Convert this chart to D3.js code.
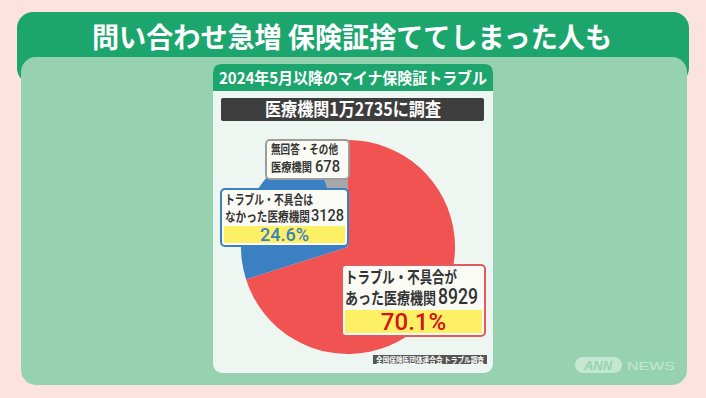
<!DOCTYPE html>
<html>
<head>
<meta charset="utf-8">
<script src="https://cdn.jsdelivr.net/npm/d3@7"></script>
<style>
  html, body { margin: 0; padding: 0; background: #fde2e2; }
  svg { display: block; font-family: "Noto Sans CJK JP", "Noto Sans", sans-serif; }
</style>
</head>
<body>
<svg id="chart" width="706" height="398"></svg>
<script>
// data
const headline = "問い合わせ急増 保険証捨ててしまった人も"
const chartTitle = "2024年5月以降のマイナ保険証トラブル"
const subTitle = "医療機関1万2735に調査"
const sourceNote = "全国保険医団体連合会 トラブル調査"

const categories = ["トラブル・不具合があった", "トラブル・不具合はなかった", "無回答・その他"]
const counts = [8929, 3128, 678]
const percents = ["70.1%", "24.6%", null]
const sliceColors = ["#f05352", "#3a80c2", "#a7a7a7"]

const svg = d3.select("#chart")
const numFont = "Roboto, 'Noto Sans', sans-serif"

// outer frame
svg.append("rect").attr("x", 17).attr("y", 12).attr("width", 672).attr("height", 72)
    .attr("rx", 16).attr("fill", "#1da56e")
svg.append("rect").attr("x", 21).attr("y", 57).attr("width", 666).attr("height", 328)
    .attr("rx", 15).attr("fill", "#97d2b0")

svg.append("text")
    .attr("x", 352).attr("y", 48)
    .attr("text-anchor", "middle")
    .attr("fill", "white")
    .attr("font-size", 28).attr("font-weight", 700)
    .attr("textLength", 520).attr("lengthAdjust", "spacingAndGlyphs")
    .text(headline)

// chart panel
const panel = { x: 213, y: 64, w: 280, h: 309 }
svg.append("rect").attr("x", panel.x).attr("y", panel.y).attr("width", panel.w).attr("height", panel.h)
    .attr("rx", 9).attr("fill", "#eef6f1")
svg.append("path")
    .attr("d", `M${panel.x},${panel.y + 27} V${panel.y + 9} Q${panel.x},${panel.y} ${panel.x + 9},${panel.y} H${panel.x + panel.w - 9} Q${panel.x + panel.w},${panel.y} ${panel.x + panel.w},${panel.y + 9} V${panel.y + 27} Z`)
    .attr("fill", "#1da56e")
svg.append("text")
    .attr("x", 353).attr("y", 84)
    .attr("text-anchor", "middle").attr("fill", "white")
    .attr("font-size", 16).attr("font-weight", 700)
    .attr("textLength", 268).attr("lengthAdjust", "spacingAndGlyphs")
    .text(chartTitle)

svg.append("rect").attr("x", 221).attr("y", 98).attr("width", 263).attr("height", 23)
    .attr("rx", 2).attr("fill", "#3d3d3d")
svg.append("text")
    .attr("x", 353).attr("y", 116)
    .attr("text-anchor", "middle").attr("fill", "white")
    .attr("font-size", 18).attr("font-weight", 700)
    .attr("textLength", 176).attr("lengthAdjust", "spacingAndGlyphs")
    .text(subTitle)

// pie
const cx = 348, cy = 247, r = 107
const pie = d3.pie().sort(null).value(d => d)
const arc = d3.arc().innerRadius(0).outerRadius(r)
const slices = pie(counts)

svg.append("g").attr("transform", `translate(${cx},${cy})`)
    .selectAll("path")
    .data(slices)
    .join("path")
    .attr("d", arc)
    .attr("fill", (d, i) => sliceColors[i])

// callout boxes (layout only, values come from the arrays above)
const boxes = [
    { i: 0, x: 342, y: 265, w: 143, h: 71, border: "#e55a5e", fs: 16, nfs: 22,
      line1: "トラブル・不具合が", line2: "あった医療機関",
      y1: 283, y2: 304, l1: [345, 112], l2: [345, 91], num: [438, 40],
      pctColor: "#d3121a", pfs: 24, band: [310, 23] },
    { i: 1, x: 221, y: 189, w: 127, h: 57, border: "#3a80c2", fs: 13, nfs: 17,
      line1: "トラブル・不具合は", line2: "なかった医療機関",
      y1: 204, y2: 221, l1: [225, 88], l2: [225, 85], num: [311, 33],
      pctColor: "#3a80c2", pfs: 18, band: [226, 17] },
    { i: 2, x: 266, y: 140, w: 83, h: 39, border: "#9d9d9d", fs: 12, nfs: 17,
      line1: "無回答・その他", line2: "医療機関",
      y1: 154, y2: 172, l1: [271, 67], l2: [271, 41], num: [315, 25],
      pctColor: null }
]

const callout = svg.append("g").selectAll("g")
    .data(boxes)
    .join("g")

callout.append("rect")
    .attr("x", d => d.x).attr("y", d => d.y)
    .attr("width", d => d.w).attr("height", d => d.h)
    .attr("rx", 4)
    .attr("fill", "#fbfbf6")
    .attr("stroke", d => d.border).attr("stroke-width", 2)

callout.filter(d => d.band).append("rect")
    .attr("x", d => d.x + 3).attr("y", d => d.band[0])
    .attr("width", d => d.w - 6).attr("height", d => d.band[1])
    .attr("fill", "#fdf065")

callout.append("text")
    .attr("x", d => d.l1[0]).attr("y", d => d.y1)
    .attr("fill", "#333")
    .attr("font-size", d => d.fs).attr("font-weight", 700)
    .attr("textLength", d => d.l1[1]).attr("lengthAdjust", "spacingAndGlyphs")
    .text(d => d.line1)

callout.append("text")
    .attr("x", d => d.l2[0]).attr("y", d => d.y2)
    .attr("fill", "#333")
    .attr("font-size", d => d.fs).attr("font-weight", 700)
    .attr("textLength", d => d.l2[1]).attr("lengthAdjust", "spacingAndGlyphs")
    .text(d => d.line2)

callout.append("text")
    .attr("x", d => d.num[0]).attr("y", d => d.y2)
    .attr("fill", "#333")
    .attr("font-family", numFont)
    .attr("font-size", d => d.nfs).attr("font-weight", 500)
    .attr("textLength", d => d.num[1]).attr("lengthAdjust", "spacingAndGlyphs")
    .text(d => counts[d.i])

callout.filter(d => d.pctColor).append("text")
    .attr("x", d => d.x + d.w / 2)
    .attr("y", d => d.band[0] + d.band[1] - (d.i === 0 ? 3 : 2))
    .attr("text-anchor", "middle")
    .attr("fill", d => d.pctColor)
    .attr("font-family", numFont)
    .attr("font-size", d => d.pfs).attr("font-weight", 500)
    .text(d => percents[d.i])

// source note
svg.append("rect").attr("x", 373).attr("y", 355).attr("width", 114).attr("height", 9)
    .attr("fill", "#555")
svg.append("text")
    .attr("x", 430).attr("y", 362.5)
    .attr("text-anchor", "middle").attr("fill", "white")
    .attr("font-size", 7.5).attr("font-weight", 700)
    .attr("textLength", 108).attr("lengthAdjust", "spacingAndGlyphs")
    .text(sourceNote)

// ANN NEWS mark
svg.append("rect").attr("x", 575).attr("y", 357).attr("width", 47).attr("height", 16)
    .attr("rx", 8).attr("fill", "#c4e7d2")
svg.append("text")
    .attr("x", 598).attr("y", 370).attr("text-anchor", "middle")
    .attr("fill", "#97d2b0").attr("font-size", 13).attr("font-weight", 700)
    .attr("font-style", "italic").attr("font-family", "Liberation Sans, sans-serif")
    .text("ANN")
svg.append("text")
    .attr("x", 627).attr("y", 370)
    .attr("fill", "#c4e7d2").attr("font-size", 11)
    .attr("font-family", "Liberation Sans, sans-serif")
    .attr("textLength", 48).attr("lengthAdjust", "spacingAndGlyphs")
    .text("NEWS")
</script>
</body>
</html>
